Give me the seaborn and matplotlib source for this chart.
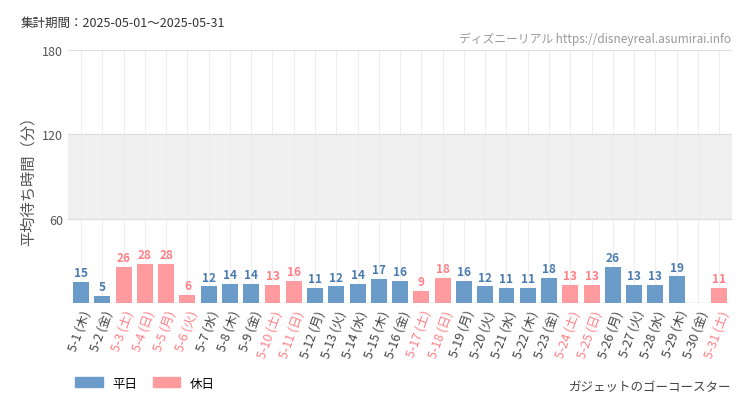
import matplotlib
matplotlib.use("Agg")
import matplotlib.pyplot as plt
import seaborn as sns
import pandas as pd
import numpy as np
from matplotlib.patches import Patch

plt.rcParams["font.family"] = "Noto Sans CJK JP"

dates = [f"5-{d}" for d in range(1, 32)]
weekdays = ["木","金","土","日","月","火","水","木","金","土","日","月","火","水","木","金","土","日","月","火","水","木","金","土","日","月","火","水","木","金","土"]
values = [15,5,26,28,28,6,12,14,14,13,16,11,12,14,17,16,9,18,16,12,11,11,18,13,13,26,13,13,19,np.nan,11]
holiday = [False,False,True,True,True,True,False,False,False,True,True,False,False,False,False,False,True,True,False,False,False,False,False,True,True,False,False,False,False,False,True]

labels = [f"{d} ({w})" for d, w in zip(dates, weekdays)]
df = pd.DataFrame({"label": labels, "value": values,
                   "kind": ["休日" if h else "平日" for h in holiday]})
BLUE = "#6b9bc8"; RED = "#ff9a9e"
BLUE_T = "#4a7bb0"; RED_T = "#ff7f86"

fig = plt.figure(figsize=(7.5, 4.1), dpi=100)
ax = fig.add_axes([0.091, 0.258, 0.885, 0.618])
sns.barplot(data=df, x="label", y="value", hue="kind", palette={"平日": BLUE, "休日": RED},
            dodge=False, width=0.75, saturation=1, ax=ax, legend=False)
ax.axhspan(60, 120, color="#f0f0f0", zorder=0)
ax.set_ylim(0, 180)
ax.set_xlim(-0.6, 30.6)
ax.set_yticks([0, 60, 120, 180])
ax.set_yticklabels(["", "60", "120", "180"], fontsize=9, color="#555")
ax.yaxis.grid(True, color="#dddddd", lw=0.8)
ax.xaxis.grid(True, color="#eeeeee", lw=0.8)
ax.set_axisbelow(True)
for s in ax.spines.values():
    s.set_visible(False)
ax.axhline(0, color="#999", lw=0.8)
ax.tick_params(length=0)
ax.set_xlabel("")
ax.set_ylabel("平均待ち時間（分）", fontsize=11, color="#555")
for i, (v, h) in enumerate(zip(values, holiday)):
    if not np.isnan(v):
        ax.text(i, v + 2, str(int(v)), ha="center", va="bottom", fontsize=8.5,
                color=RED_T if h else BLUE_T, fontweight="bold")
ax.set_xticks(range(len(labels)))
ax.set_xticklabels(labels, rotation=70, ha="right", fontsize=9, rotation_mode="anchor")
for t, h in zip(ax.get_xticklabels(), holiday):
    t.set_color(RED_T if h else "#444")

fig.text(0.027, 0.935, "集計期間：2025-05-01～2025-05-31", fontsize=9, color="#333")
fig.text(0.975, 0.895, "ディズニーリアル https://disneyreal.asumirai.info", fontsize=8.5, color="#999", ha="right")
fig.text(0.975, 0.045, "ガジェットのゴーコースター", fontsize=9, color="#444", ha="right")
fig.legend(handles=[Patch(color=BLUE, label="平日"), Patch(color=RED, label="休日")],
           loc="lower left", bbox_to_anchor=(0.085, 0.02), ncol=2, frameon=False,
           fontsize=9, handlelength=2.2, handleheight=0.9, columnspacing=1.2)
fig.savefig("out.png", dpi=100)
